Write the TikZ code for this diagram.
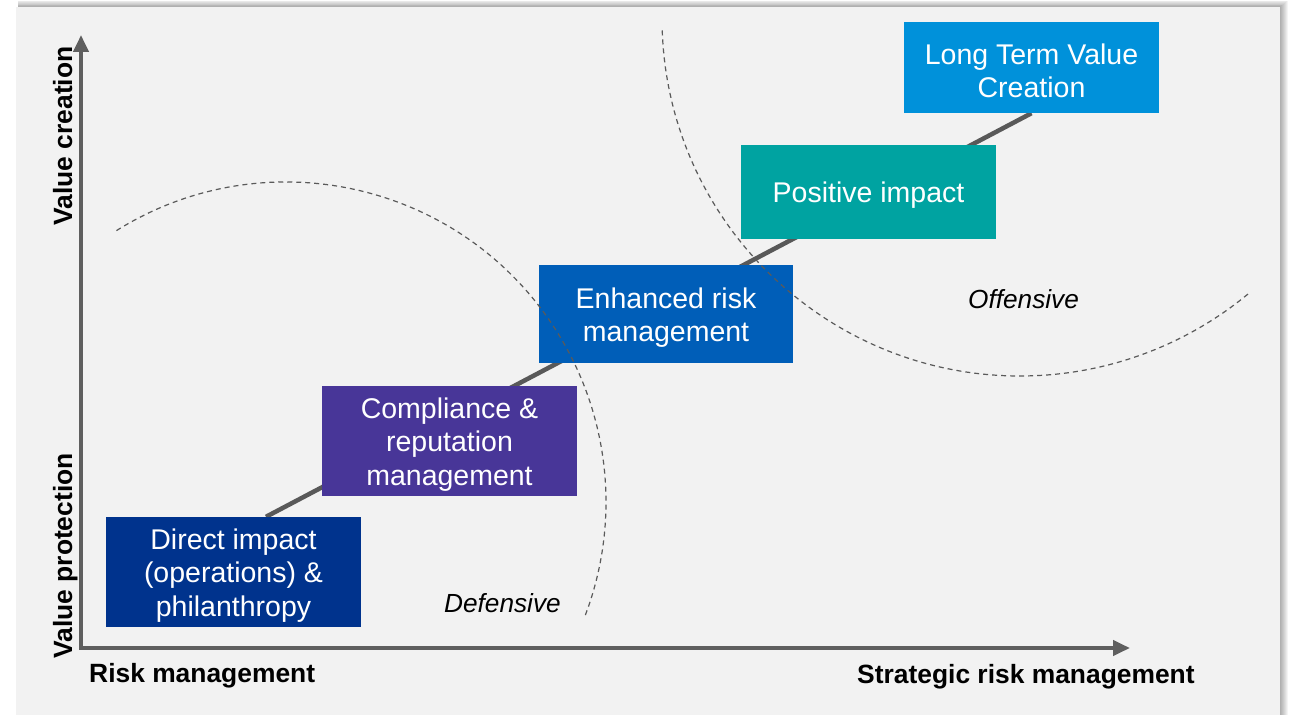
\documentclass[tikz,border=0pt]{standalone}
\usepackage{fontspec}
\setmainfont{Liberation Sans}
\usetikzlibrary{arrows.meta,calc}

\definecolor{panel}{HTML}{F2F2F2}
\definecolor{axisgray}{HTML}{5F5F5F}
\definecolor{linkgray}{HTML}{595959}
\definecolor{arcgray}{HTML}{5A5A5A}
\definecolor{navy}{HTML}{00338D}
\definecolor{violet}{HTML}{483698}
\definecolor{midblue}{HTML}{005EB8}
\definecolor{teal}{HTML}{00A3A1}
\definecolor{lightblue}{HTML}{0091DA}

\pgfdeclarelayer{back}
\pgfdeclarelayer{mid}
\pgfdeclarelayer{front}
\pgfsetlayers{back,mid,main,front}

\begin{document}
\begin{tikzpicture}[x=1pt,y=1pt,
  stagetext/.style={inner sep=0pt, text=white, align=center, yshift=-3.5pt,
    font=\fontsize{28.5}{33.5}\selectfont},
  stage/.style={rectangle, inner sep=0pt, minimum width=255pt,
    label={[stagetext]center:{#1}}},
  axislabel/.style={inner sep=0pt, text=black, font=\bfseries\fontsize{26.4}{30}\selectfont},
  zone/.style={inner sep=0pt, text=black, font=\itshape\fontsize{26.2}{30}\selectfont},
  axisline/.style={draw=axisgray, line width=4.2pt, line join=miter,
    {Triangle[length=17pt,width=15pt]}-{Triangle[length=17pt,width=15pt]}},
  link/.style={draw=linkgray, line width=4.5pt},
  border/.style={draw=arcgray, line width=1.2pt, dash pattern=on 5pt off 4pt}]

\useasboundingbox (0,0) rectangle (1289,715);

% page, soft shadow and grey panel
\begin{pgfonlayer}{back}
  \fill[white] (0,0) rectangle (1289,715);
  \foreach \i in {1,...,8}
    \fill[black, opacity=0.045] (18,0) rectangle ({1280+\i},{708+0.8*\i});
  \fill[panel] (16,0) rectangle (1280,708);
\end{pgfonlayer}

% axes
\coordinate (ytip) at (81,680);
\coordinate (origin) at (81,67);
\coordinate (xtip) at (1130,67);
\draw[axisline] (ytip) -- (origin) -- (xtip);

% stages
\node[stage={Direct impact\\(operations) \&\\philanthropy},
  fill=navy, minimum height=110pt] (direct) at (233.5,143) {};
\node[stage={Compliance \&\\reputation\\management},
  fill=violet, minimum height=110pt] (compliance) at (449.5,274) {};
\node[stage={Enhanced risk\\management},
  fill=midblue, minimum width=254pt, minimum height=98pt] (enhanced) at (666,401) {};
\node[stage={Positive impact},
  fill=teal, minimum height=94pt] (positive) at (868.5,523) {};
\node[stage={Long Term Value\\Creation},
  fill=lightblue, minimum height=91pt] (ltv) at (1031.5,647.5) {};

% rising line behind the stages
\begin{pgfonlayer}{mid}
  \draw[link] ($(direct.north)+(32.5,0)$) -- (ltv.south);
\end{pgfonlayer}

% axis labels
\node[axislabel, rotate=90, anchor=base] (vcreate) at (72,579) {Value creation};
\node[axislabel, rotate=90, anchor=base] (vprotect) at (72,159) {Value protection};
\node[axislabel, anchor=base west] (riskm) at (89,33) {Risk management};
\node[axislabel, anchor=base west] (stratm) at (857,32) {Strategic risk management};

% zones
\node[zone, anchor=base west] (defensive) at (444,103) {Defensive};
\node[zone, anchor=base west] (offensive) at (968,406) {Offensive};

\begin{pgfonlayer}{front}
  \coordinate (defc) at (286,213);
  \coordinate (offc) at (1020,697);
  \draw[border] ($(defc)+(122:320)$) arc[start angle=122, end angle=-21, radius=320];
  \draw[border] ($(offc)+(182:358)$) arc[start angle=182, end angle=310, radius=358];
\end{pgfonlayer}
\end{tikzpicture}
\end{document}
